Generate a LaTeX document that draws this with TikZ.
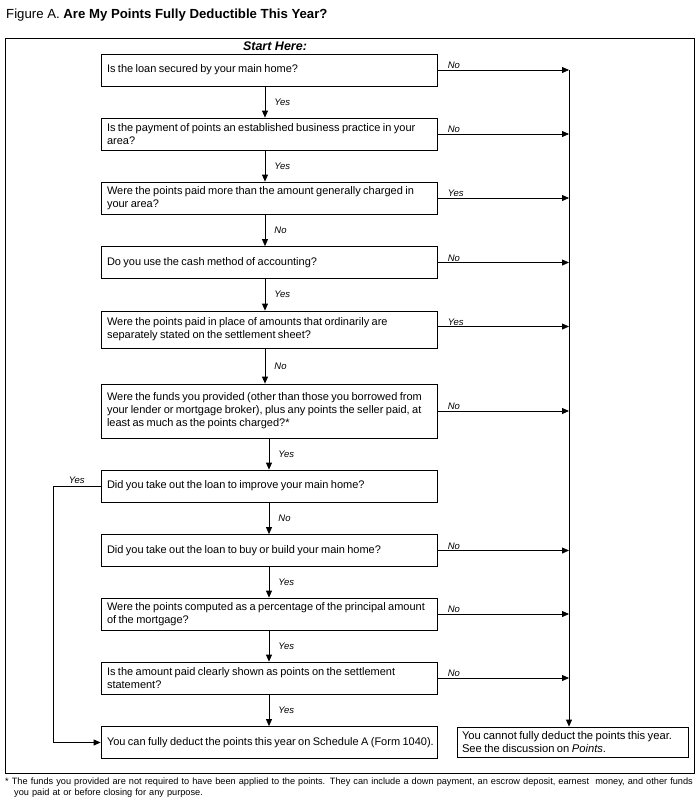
\documentclass[tikz,border=0pt]{standalone}
\usepackage{fontspec}
\setmainfont{Liberation Sans}
\usetikzlibrary{arrows.meta, positioning, calc}
\newcommand\tightwords{\spaceskip=2.4pt plus 1pt minus 0.3pt\relax}

\begin{document}
\begin{tikzpicture}[x=1pt, y=-1pt,
    qbox/.style={draw, line width=0.8pt, text width=324pt, inner xsep=6pt, align=left,
                 minimum height=32pt, font=\fontsize{11}{13}\selectfont,
                 execute at begin node=\tightwords},
    arr/.style={-{Triangle[length=7pt, width=6pt]}, line width=0.8pt},
    lbl/.style={font=\fontsize{9.5}{11}\selectfont\itshape, inner sep=1pt}]
    \useasboundingbox (0,0) rectangle (699,806);

    % title and frame
    \node[anchor=west, inner sep=0pt, font=\fontsize{13.2}{15}\selectfont] (title) at (6,15)
        {Figure A. \textbf{Are My Points Fully Deductible This Year?}};
    \draw[line width=0.8pt] (5,38) rectangle (694,773);
    \node[font=\fontsize{12.5}{13}\selectfont\bfseries\itshape, inner sep=0pt] (start) at (275,46) {Start Here:};

    % questions
    \node[qbox] (q1) at (269,70) {Is the loan secured by your main home?};
    \node[qbox] (q2) at (269,134) {Is the payment of points an established business practice in your\\area?};
    \node[qbox] (q3) at (269,198) {Were the points paid more than the amount generally charged in\\your area?};
    \node[qbox] (q4) at (269,262.5) {Do you use the cash method of accounting?};
    \node[qbox, minimum height=37pt] (q5) at (269,329.5) {Were the points paid in place of amounts that ordinarily are\\separately stated on the settlement sheet?};
    \node[qbox, minimum height=54pt] (q6) at (269,411) {Were the funds you provided (other than those you borrowed from\\your lender or mortgage broker), plus any points the seller paid, at\\least as much as the points charged?*};
    \node[qbox] (q7) at (269,486) {Did you take out the loan to improve your main home?};
    \node[qbox] (q8) at (269,550.5) {Did you take out the loan to buy or build your main home?};
    \node[qbox] (q9) at (269,614) {Were the points computed as a percentage of the principal amount\\of the mortgage?};
    \node[qbox] (q10) at (269,678) {Is the amount paid clearly shown as points on the settlement\\statement?};

    % answers
    \node[qbox] (can) at (269,742.5) {\mbox{You can fully deduct the points this year on Schedule A (Form 1040).}};
    \node[qbox, text width=221pt, inner xsep=5pt, minimum height=30pt, inner ysep=2pt,
          font=\fontsize{11.2}{13}\selectfont, execute at begin node={}] (cannot) at (572.5,742)
        {You cannot fully deduct the points this year.\\See the discussion on \textit{Points}.};

    \coordinate (trunk) at (569,70);
    \coordinate (loop) at (53,486);

    % down the left column
    \draw[arr] ([xshift=-4pt]q1.south) -- node[lbl, right=8pt] {Yes} ([xshift=-4pt]q2.north);
    \draw[arr] ([xshift=-4pt]q2.south) -- node[lbl, right=8pt] {Yes} ([xshift=-4pt]q3.north);
    \draw[arr] ([xshift=-4pt]q3.south) -- node[lbl, right=8pt] {No} ([xshift=-4pt]q4.north);
    \draw[arr] ([xshift=-4pt]q4.south) -- node[lbl, right=8pt] {Yes} ([xshift=-4pt]q5.north);
    \draw[arr] ([xshift=-4pt]q5.south) -- node[lbl, right=8pt] {No} ([xshift=-4pt]q6.north);
    \draw[arr] (q6.south) -- node[lbl, right=8pt] {Yes} (q7.north);
    \draw[arr] (q7.south) -- node[lbl, right=8pt] {No} (q8.north);
    \draw[arr] (q8.south) -- node[lbl, right=8pt] {Yes} (q9.north);
    \draw[arr] (q9.south) -- node[lbl, right=8pt] {Yes} (q10.north);
    \draw[arr] (q10.south) -- node[lbl, right=8pt] {Yes} (can.north);

    % over to the right
    \draw[arr] (q1.east) -- node[lbl, pos=0, anchor=south west, xshift=9pt] {No} (q1.east -| trunk);
    \draw[arr] (q2.east) -- node[lbl, pos=0, anchor=south west, xshift=9pt] {No} (q2.east -| trunk);
    \draw[arr] (q3.east) -- node[lbl, pos=0, anchor=south west, xshift=9pt] {Yes} (q3.east -| trunk);
    \draw[arr] (q4.east) -- node[lbl, pos=0, anchor=south west, xshift=9pt] {No} (q4.east -| trunk);
    \draw[arr] ([yshift=3pt]q5.east) -- node[lbl, pos=0, anchor=south west, xshift=9pt] {Yes} ([yshift=3pt]q5.east -| trunk);
    \draw[arr] (q6.east) -- node[lbl, pos=0, anchor=south west, xshift=9pt] {No} (q6.east -| trunk);
    \draw[arr] (q8.east) -- node[lbl, pos=0, anchor=south west, xshift=9pt] {No} (q8.east -| trunk);
    \draw[arr] (q9.east) -- node[lbl, pos=0, anchor=south west, xshift=9pt] {No} (q9.east -| trunk);
    \draw[arr] (q10.east) -- node[lbl, pos=0, anchor=south west, xshift=9pt] {No} (q10.east -| trunk);
    \draw[arr] (trunk) -- (trunk |- cannot.north);

    % improve main home
    \draw[arr] (q7.west) -- node[lbl, above=1pt] {Yes} (loop) |- (can.west);

    % footnote
    \node[anchor=north west, inner sep=0pt, text width=692pt, align=left,
          font=\fontsize{9.2}{11}\selectfont] (note) at (5,777.5)
        {* The funds you provided are not required to have been applied to the points. They can include a down payment, an escrow deposit, earnest\ \ money, and other funds\\
         \hspace*{9pt}you paid at or before closing for any purpose.};
\end{tikzpicture}
\end{document}
